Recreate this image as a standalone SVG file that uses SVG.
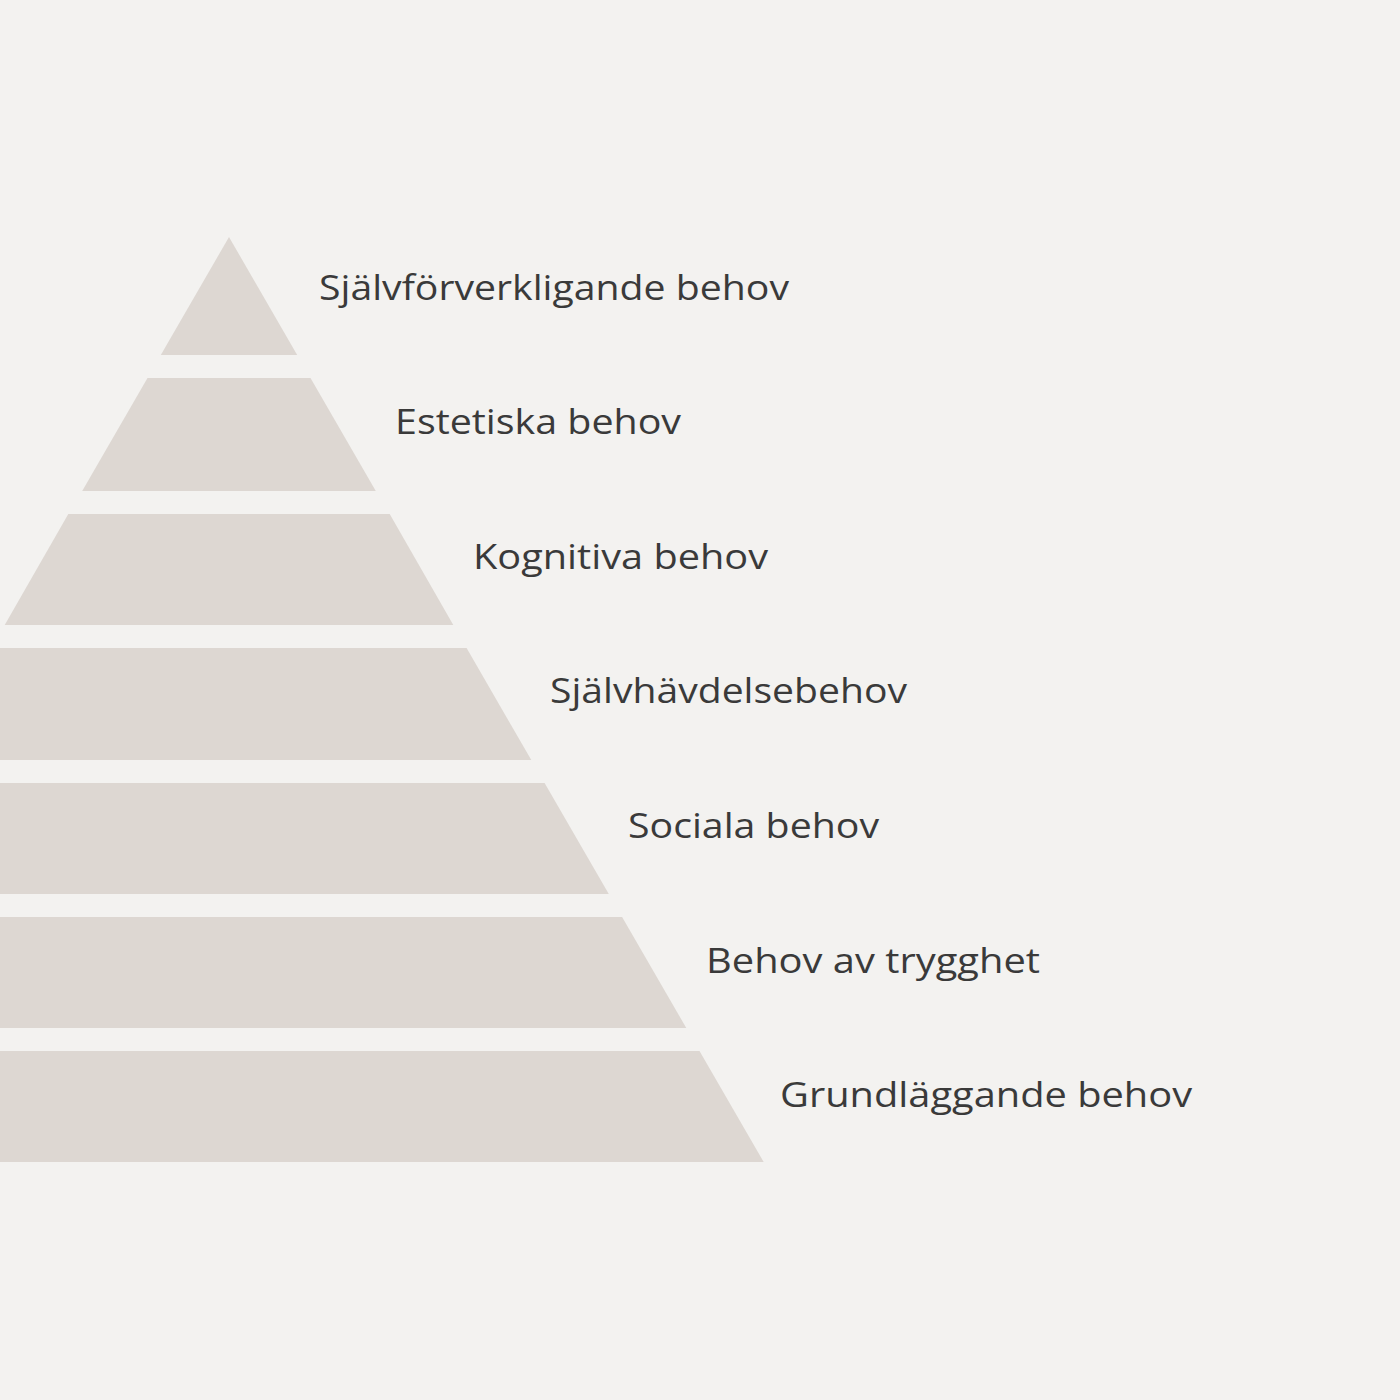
<svg xmlns="http://www.w3.org/2000/svg" width="1400" height="1400" viewBox="0 0 1400 1400">
  <style>
    .layer { fill: #ddd7d2; }
    .label { font-family: "Open Sans", "Noto Sans", "DejaVu Sans", sans-serif; font-size: 35px; fill: #3a3a3a; }
  </style>
  <rect x="0" y="0" width="1400" height="1400" fill="#f3f2f0"/>
  <g id="level-1">
    <polygon class="layer" points="229,237 297.2,355 160.8,355"/>
    <text class="label" x="319" y="300" textLength="470" lengthAdjust="spacingAndGlyphs">Självförverkligande behov</text>
  </g>
  <g id="level-2">
    <polygon class="layer" points="147.5,378 310.5,378 375.8,491 82.2,491"/>
    <text class="label" x="395" y="434" textLength="286" lengthAdjust="spacingAndGlyphs">Estetiska behov</text>
  </g>
  <g id="level-3">
    <polygon class="layer" points="68.3,514 389.7,514 453.3,625 4.7,625"/>
    <text class="label" x="473" y="569" textLength="295" lengthAdjust="spacingAndGlyphs">Kognitiva behov</text>
  </g>
  <g id="level-4">
    <polygon class="layer" points="-8.6,648 466.6,648 531.3,760 -73.3,760"/>
    <text class="label" x="550" y="703" textLength="357" lengthAdjust="spacingAndGlyphs">Självhävdelsebehov</text>
  </g>
  <g id="level-5">
    <polygon class="layer" points="-86.6,783 544.6,783 608.8,894 -150.8,894"/>
    <text class="label" x="628" y="838" textLength="251" lengthAdjust="spacingAndGlyphs">Sociala behov</text>
  </g>
  <g id="level-6">
    <polygon class="layer" points="-164.1,917 622.1,917 686.3,1028 -228.3,1028"/>
    <text class="label" x="706" y="973" textLength="334" lengthAdjust="spacingAndGlyphs">Behov av trygghet</text>
  </g>
  <g id="level-7">
    <polygon class="layer" points="-241.5,1051 699.5,1051 763.7,1162 -305.7,1162"/>
    <text class="label" x="780" y="1107" textLength="412" lengthAdjust="spacingAndGlyphs">Grundläggande behov</text>
  </g>
  <g id="connectors"></g>
</svg>
